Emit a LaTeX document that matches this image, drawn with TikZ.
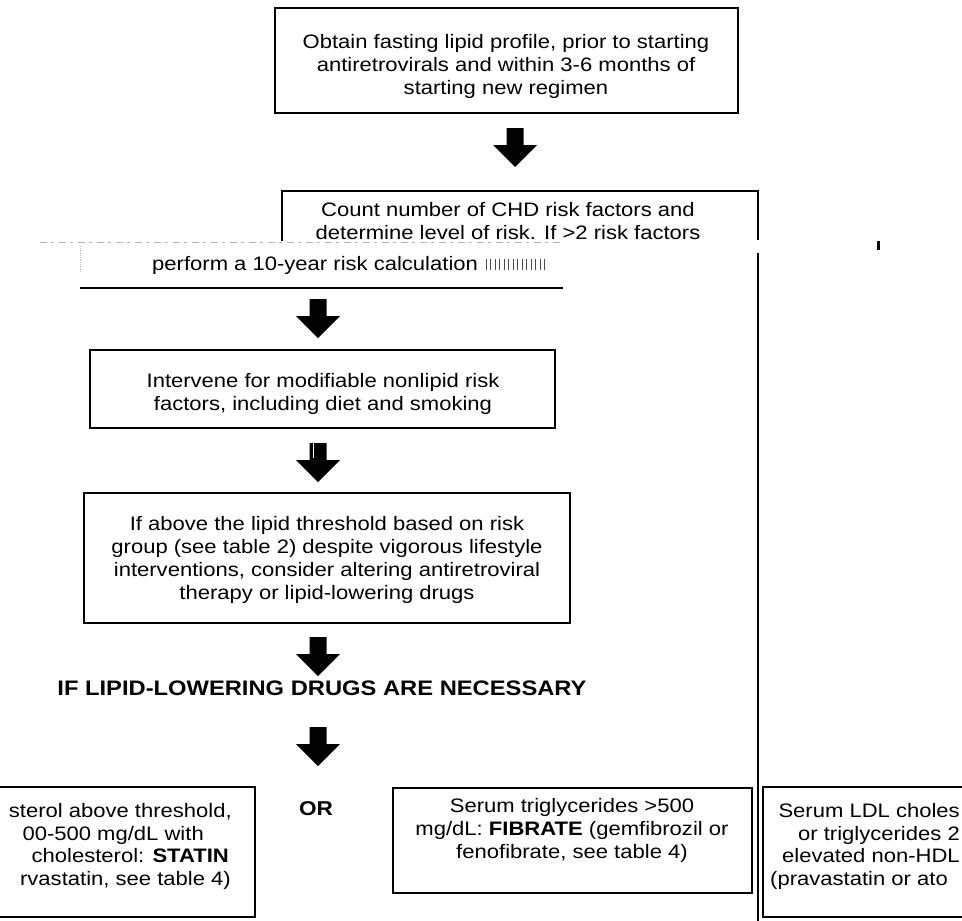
\documentclass[tikz,border=0pt]{standalone}
\usepackage{fontspec}
\setmainfont{Liberation Sans}[FakeStretch=1.13]
\begin{document}
\begin{tikzpicture}[x=1pt,y=-1pt,
  boxline/.style={draw=black, line width=1.6pt, inner sep=0pt},
  txt/.style={font=\fontsize{19.5}{23}\selectfont, align=center, inner sep=0pt},
  frag/.style={font=\fontsize{19.5}{23}\selectfont, inner sep=0pt},
  hd/.style={font=\fontsize{21}{24}\selectfont\bfseries, inner sep=0pt},
  blockarrow/.pic={\fill[black] (-8.5,0) -- (8.5,0) -- (8.5,17) -- (22,17) -- (0,39) -- (-22,17) -- (-8.5,17) -- cycle;}
]
\path[use as bounding box, clip] (0,0) rectangle (962,921);
\fill[white] (0,0) rectangle (962,921);

% top box
\node[boxline, minimum width=463pt, minimum height=105pt] (b1) at (506.5,60.5) {};
\node[txt] (t1) at (506,66) {Obtain fasting lipid profile, prior to starting\\antiretrovirals and within 3-6 months of\\starting new regimen};
\pic at (515,128) {blockarrow};

% CHD box (damaged scan)
\coordinate (chdA) at (282,241);
\coordinate (chdB) at (282,191);
\coordinate (chdC) at (758,191);
\coordinate (chdD) at (758,240);
\coordinate (vlA) at (758,253);
\coordinate (vlB) at (758,921);
\draw[line width=1.6pt] (chdA) -- (chdB) -- (chdC) -- (chdD);
\draw[line width=2.2pt] (vlA) -- (vlB);
\begin{scope}
\clip (0,0) rectangle (962,240.5);
\node[txt] (t2) at (508,221.5) {Count number of CHD risk factors and\\determine level of risk. If >2 risk factors};
\end{scope}
\draw[gray!60, line width=1pt, dash pattern=on 7pt off 4pt on 3pt off 5pt] (40,242) -- (560,242);
\draw[gray!50, line width=0.8pt, densely dotted] (80,246) -- (80,273);
\node[frag, anchor=base west] (t3) at (152,270) {perform a 10-year risk calculation};
\foreach \hx in {486,490.5,...,545} \draw[black!70, line width=0.7pt] (\hx,259) -- (\hx,270);
\draw[line width=2.5pt] (80,288) -- (563,288);
\fill (876.5,241) rectangle (879.5,250);

\pic at (318,299) {blockarrow};

% box 3
\node[boxline, minimum width=465pt, minimum height=78pt] (b3) at (322.5,389) {};
\node[txt] (t4) at (323,393.5) {Intervene for modifiable nonlipid risk\\factors, including diet and smoking};
\pic at (318,443) {blockarrow};
\draw[white, line width=0.8pt] (313,443) -- (313,458);

% box 4
\node[boxline, minimum width=486pt, minimum height=130pt] (b4) at (327,558) {};
\node[txt] (t5) at (327,559.5) {If above the lipid threshold based on risk\\group (see table 2) despite vigorous lifestyle\\interventions, consider altering antiretroviral\\therapy or lipid-lowering drugs};
\pic at (318,637) {blockarrow};

\node[hd, anchor=base] (t6) at (322,695) {IF LIPID-LOWERING DRUGS ARE NECESSARY};
\pic at (318,727) {blockarrow};

% bottom left box (cut by the page edge)
\node[boxline, minimum width=280pt, minimum height=130pt] (b5) at (115,852) {};
\node[frag, anchor=base east] (f1) at (232,817) {sterol above threshold,};
\node[frag, anchor=base east] (f2) at (204,840) {00-500 mg/dL with};
\node[frag, anchor=base east] (f3) at (229,862) {cholesterol: \textbf{STATIN}};
\node[frag, anchor=base east] (f4) at (231,885) {rvastatin, see table 4)};

\node[hd, anchor=base, font=\fontsize{20}{24}\selectfont\bfseries] (or) at (316,815) {OR};

% fibrate box
\node[boxline, minimum width=359pt, minimum height=105pt] (b6) at (572.5,840.5) {};
\node[txt] (t7) at (572,830) {Serum triglycerides >500\\mg/dL: \textbf{FIBRATE} (gemfibrozil or\\fenofibrate, see table 4)};

% right box (cut by the page edge)
\node[boxline, minimum width=250pt, minimum height=130pt] (b7) at (888,852) {};
\node[frag, anchor=base east] (g1) at (960,817) {Serum LDL choles};
\node[frag, anchor=base east] (g2) at (960,840) {or triglycerides 2};
\node[frag, anchor=base east] (g3) at (960,862) {elevated non-HDL};
\node[frag, anchor=base west] (g4) at (770,885) {(pravastatin or ato};
\end{tikzpicture}
\end{document}
